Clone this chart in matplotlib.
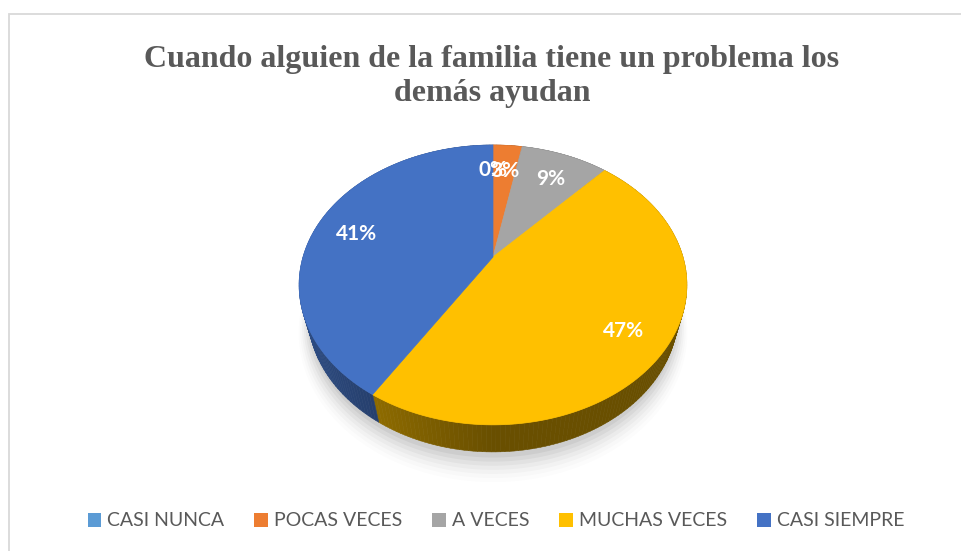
import numpy as np
import matplotlib
matplotlib.use("Agg")
import matplotlib.pyplot as plt
from matplotlib.collections import PolyCollection
from matplotlib.patches import Patch, Rectangle

# data
categories = ["CASI NUNCA", "POCAS VECES", "A VECES", "MUCHAS VECES", "CASI SIEMPRE"]
counts = [0, 1, 3, 16, 14]
colors = ["#5B9BD5", "#ED7D31", "#A5A5A5", "#FFC000", "#4472C4"]
title = "Cuando alguien de la familia tiene un problema los\ndemás ayudan"

# 3D view settings (Excel-like perspective pie)
elev = np.radians(45)
dist = 3.54
depth = 0.227
s, c = np.sin(elev), np.cos(elev)


def proj(theta, r=1.0, y=0.0):
    # theta clockwise from 12 o'clock, pie lies in a horizontal plane
    X = r * np.sin(theta)
    Z = r * np.cos(theta)
    D = dist - y * s + Z * c
    v = y * c + Z * s
    return X * dist / D, v * dist / D


def rgb_scale(hexcol, k):
    rgb = np.array(matplotlib.colors.to_rgb(hexcol))
    return tuple(np.clip(rgb * k, 0, 1))


fig = plt.figure(figsize=(9.61, 5.51), dpi=100)
fig.patches.append(Rectangle((0.0089, -0.1), 1.2, 1.0737, transform=fig.transFigure,
                             fill=False, edgecolor="#D9D9D9", lw=1.3))

ax = fig.add_axes([0.256, 0.1198, 0.514, 0.6897])
ax.set_xlim(-1.3, 1.3)
ax.set_ylim(-1.2, 0.8)
ax.set_aspect("equal")
ax.axis("off")

total = sum(counts)
fracs = np.array(counts) / total
bounds = np.concatenate([[0], np.cumsum(fracs)]) * 2 * np.pi

# soft shadow under the pie
for i, a in enumerate(np.linspace(0.045, 0.012, 7)):
    t = np.linspace(0, 2 * np.pi, 200)
    sx, sy = proj(t, 1.0 + 0.012 * i, -depth - 0.03 - 0.015 * i)
    ax.fill(sx, sy - 0.012, color="black", alpha=a, lw=0, zorder=0)

# side walls
sides, side_cols = [], []
for t0, t1, col in zip(bounds[:-1], bounds[1:], colors):
    if t1 - t0 <= 0:
        continue
    ts = np.linspace(t0, t1, max(int((t1 - t0) / 0.02), 2))
    for a, b in zip(ts[:-1], ts[1:]):
        xa, ya = proj(a)
        xb, yb = proj(b)
        xa2, ya2 = proj(a, y=-depth)
        xb2, yb2 = proj(b, y=-depth)
        sides.append([(xa, ya), (xb, yb), (xb2, yb2), (xa2, ya2)])
        m = 0.5 * (a + b)
        k = 0.41 + 0.28 * max(0.0, -np.sin(m))
        side_cols.append(rgb_scale(col, k))
ax.add_collection(PolyCollection(sides, facecolors=side_cols, edgecolors=side_cols,
                                 linewidths=0.4, zorder=1))

# top faces
for t0, t1, col in zip(bounds[:-1], bounds[1:], colors):
    if t1 - t0 <= 0:
        continue
    ts = np.linspace(t0, t1, 200)
    px, py = proj(ts)
    ax.fill(np.concatenate([[0], px]), np.concatenate([[0], py]), color=col,
            lw=0.5, ec=col, zorder=2)

# data labels
for t0, t1, f in zip(bounds[:-1], bounds[1:], fracs):
    lx, ly = proj(0.5 * (t0 + t1), r=0.78)
    ax.annotate(f"{f * 100:.0f}%", (lx, ly), xytext=(0, -3), textcoords="offset points",
                ha="center", va="center", color="white", fontsize=15,
                fontweight="bold", family="Lato", zorder=3)

fig.text(0.512, 1 - 45 / 551, title, ha="center", va="top", fontsize=23,
         fontweight="bold", family="Liberation Serif", color="#595959",
         linespacing=1.22)

handles = [Patch(facecolor=col, edgecolor="none") for col in colors]
fig.legend(handles, categories, loc="center", bbox_to_anchor=(0.516, 1 - 521 / 551),
           ncol=5, frameon=False, handlelength=0.7, handleheight=0.7,
           handletextpad=0.3, columnspacing=1.55,
           prop={"family": "Lato", "size": 14}, labelcolor="#595959")

fig.savefig("out.png", dpi=100)
